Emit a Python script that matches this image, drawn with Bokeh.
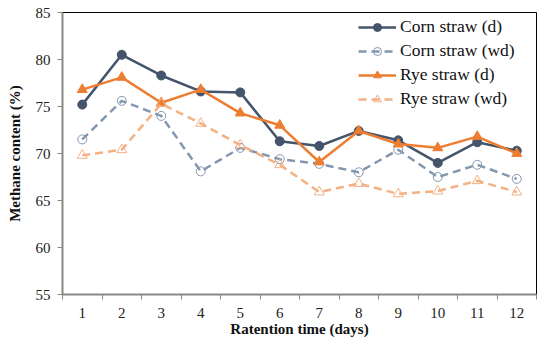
from bokeh.plotting import figure
from bokeh.models import FixedTicker, Legend, LegendItem, Range1d
from bokeh.embed import file_html
from bokeh.resources import INLINE

days = [1, 2, 3, 4, 5, 6, 7, 8, 9, 10, 11, 12]
day_labels = ["1", "2", "3", "4", "5", "6", "7", "8", "9", "10", "11", "12"]
corn_d = [75.2, 80.5, 78.3, 76.6, 76.5, 71.3, 70.8, 72.4, 71.4, 69.0, 71.2, 70.3]
corn_wd = [71.5, 75.6, 74.0, 68.1, 70.6, 69.4, 68.9, 68.0, 70.4, 67.5, 68.8, 67.3]
rye_d = [76.8, 78.1, 75.4, 76.8, 74.3, 73.0, 69.1, 72.4, 71.0, 70.6, 71.8, 70.0]
rye_wd = [69.8, 70.4, 75.3, 73.2, 70.9, 68.8, 65.9, 66.8, 65.7, 66.0, 67.1, 65.9]
y_ticks = [55, 60, 65, 70, 75, 80, 85]

FONT = "Liberation Serif"

p = figure(width=540, height=344, output_backend="svg", toolbar_location=None,
           x_range=Range1d(0.5, 12.5), y_range=Range1d(55, 85),
           min_border_left=62, min_border_right=4, min_border_top=12, min_border_bottom=50)
p.xgrid.visible = False
p.ygrid.visible = False
p.outline_line_color = "black"
p.outline_line_width = 1

xt = FixedTicker(ticks=days, minor_ticks=[d - 0.5 for d in days] + [days[-1] + 0.5])
p.xaxis.ticker = xt
p.xaxis.major_label_overrides = {d: l for d, l in zip(days, day_labels)}
p.xaxis.major_tick_line_color = None
p.xaxis.minor_tick_line_color = "#888888"
p.xaxis.minor_tick_in = 0
p.xaxis.minor_tick_out = 5
p.xaxis.axis_label = "Ratention time (days)"

p.yaxis.ticker = FixedTicker(ticks=y_ticks)
p.yaxis.minor_tick_line_color = None
p.yaxis.major_tick_in = 0
p.yaxis.major_tick_out = 5
p.yaxis.major_tick_line_color = "#888888"
p.yaxis.axis_label = "Methane content (%)"

for ax in (p.xaxis[0], p.yaxis[0]):
    ax.axis_line_color = "#888888"
    ax.axis_line_width = 2
    ax.major_label_text_font = FONT
    ax.major_label_text_font_size = "15px"
    ax.major_label_text_color = "#222222"
    ax.axis_label_text_font = FONT
    ax.axis_label_text_font_size = "15px"
    ax.axis_label_text_font_style = "bold"
    ax.axis_label_text_color = "#111111"
p.xaxis.major_label_standoff = 7
p.xaxis.axis_label_standoff = 0
p.yaxis.major_label_standoff = 7
p.yaxis.axis_label_standoff = 10

c1, c2, c3, c4 = "#44546A", "#8497B0", "#ED7D31", "#F4B183"

l1 = p.line(days, corn_d, line_color=c1, line_width=2.5)
m1 = p.scatter(days, corn_d, marker="circle", size=9, fill_color=c1, line_color=c1)
l2 = p.line(days, corn_wd, line_color=c2, line_width=2.5, line_dash="8 5")
m2 = p.scatter(days, corn_wd, marker="circle", size=9, fill_color="white", fill_alpha=0, line_color=c2, line_width=1)
l3 = p.line(days, rye_d, line_color=c3, line_width=2.5)
m3 = p.scatter(days, rye_d, marker="triangle", size=10, fill_color=c3, line_color=c3)
l4 = p.line(days, rye_wd, line_color=c4, line_width=2.5, line_dash="8 5")
m4 = p.scatter(days, rye_wd, marker="triangle", size=10, fill_color="white", fill_alpha=0, line_color=c4, line_width=1)

legend = Legend(items=[
    LegendItem(label="Corn straw (d)", renderers=[l1, m1]),
    LegendItem(label="Corn straw (wd)", renderers=[l2, m2]),
    LegendItem(label="Rye straw (d)", renderers=[l3, m3]),
    LegendItem(label="Rye straw (wd)", renderers=[l4, m4]),
], location=(296, 185))
legend.border_line_color = None
legend.background_fill_alpha = 0
legend.label_text_font = FONT
legend.label_text_font_size = "17.5px"
legend.label_text_color = "#111111"
legend.glyph_width = 38
legend.glyph_height = 20
legend.spacing = 3
legend.label_standoff = 4
legend.padding = 4
legend.margin = 0
p.add_layout(legend)

open("out.html", "w").write(file_html(p, INLINE))
